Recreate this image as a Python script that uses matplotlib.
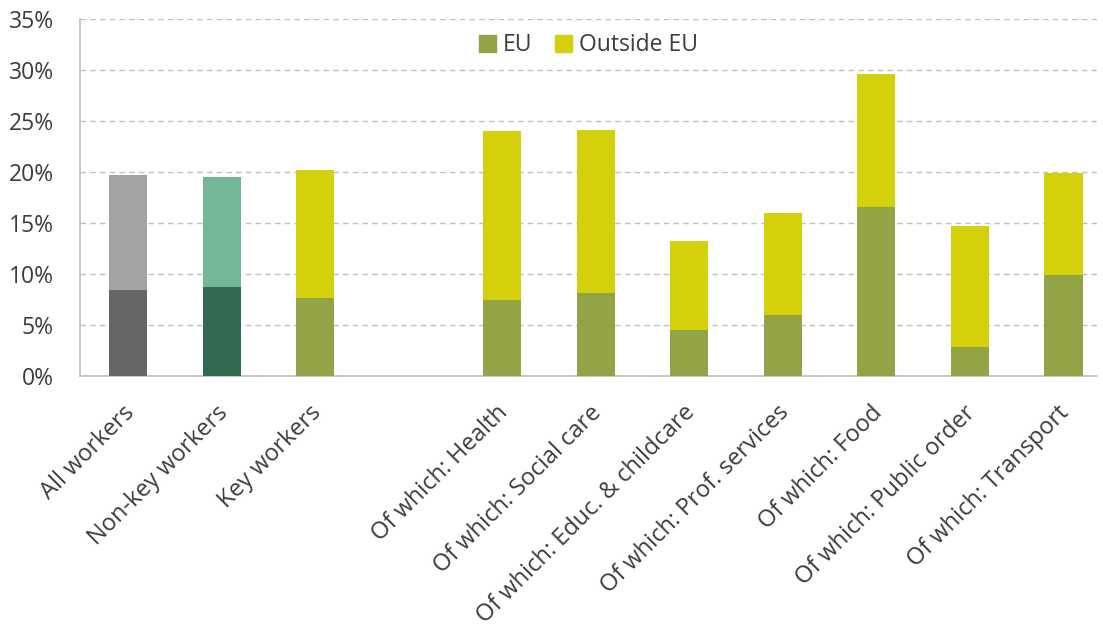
import matplotlib
matplotlib.use("Agg")
import matplotlib.pyplot as plt
import matplotlib.transforms as mtrans
from matplotlib.patches import Patch
import numpy as np

plt.rcParams['font.family'] = ['Open Sans', 'DejaVu Sans']

categories = ["All workers", "Non-key workers", "Key workers", "",
              "Of which: Health", "Of which: Social care", "Of which: Educ. & childcare",
              "Of which: Prof. services", "Of which: Food", "Of which: Public order",
              "Of which: Transport"]
eu_share = [8.4, 8.7, 7.6, np.nan, 7.5, 8.1, 4.5, 6.0, 16.6, 2.8, 9.9]
total_share = [19.7, 19.5, 20.2, np.nan, 24.0, 24.1, 13.2, 16.0, 29.6, 14.7, 19.9]
outside_eu = [t - e for t, e in zip(total_share, eu_share)]
yticks = [0, 5, 10, 15, 20, 25, 30, 35]

eu_colors = ['#666666', '#336950'] + ['#93a447'] * 9
out_colors = ['#a3a3a3', '#72b898'] + ['#d4d10c'] * 9

fig = plt.figure(figsize=(11.03, 6.27), dpi=100)
ax = fig.add_axes([80/1103, 1 - 376/627, (1097-80)/1103, (376-19)/627])

x = np.arange(len(categories))
ax.bar(x, eu_share, width=0.41, color=eu_colors, zorder=3)
ax.bar(x, outside_eu, bottom=eu_share, width=0.41, color=out_colors, zorder=3)

ax.set_xlim(-0.515, 10.36)
ax.set_ylim(0, 35)
ax.set_yticks(yticks)
ax.set_yticklabels([f"{v}%" for v in yticks], fontsize=16.5, color='#3c3c3c')
ax.tick_params(axis='y', length=0, pad=19)
ax.tick_params(axis='x', length=0, pad=7)
ax.set_xticks(x)
ax.set_xticklabels(categories, rotation=45, ha='right', rotation_mode='anchor',
                   fontsize=17, color='#3c3c3c')
offset = mtrans.ScaledTranslation(-0.06, -0.15, fig.dpi_scale_trans)
for lab in ax.get_xticklabels():
    lab.set_transform(lab.get_transform() + offset)

ax.yaxis.grid(True, linestyle=(0, (4, 3)), color='#c0c0c0', linewidth=1, zorder=0)
for s in ['top', 'right']:
    ax.spines[s].set_visible(False)
ax.spines['left'].set_color('#bfbfbf')
ax.spines['bottom'].set_color('#bfbfbf')
ax.spines['left'].set_linewidth(1.2)
ax.spines['bottom'].set_linewidth(1.2)

handles = [Patch(color='#93a447', label='EU'), Patch(color='#d4d10c', label='Outside EU')]
ax.legend(handles=handles, loc='upper center', bbox_to_anchor=(0.5, 1.018), ncol=2,
          frameon=False, fontsize=16.5, handlelength=0.75, handleheight=0.75,
          handletextpad=0.3, columnspacing=1.0, labelcolor='#3c3c3c')

fig.savefig("out.png", dpi=100)
